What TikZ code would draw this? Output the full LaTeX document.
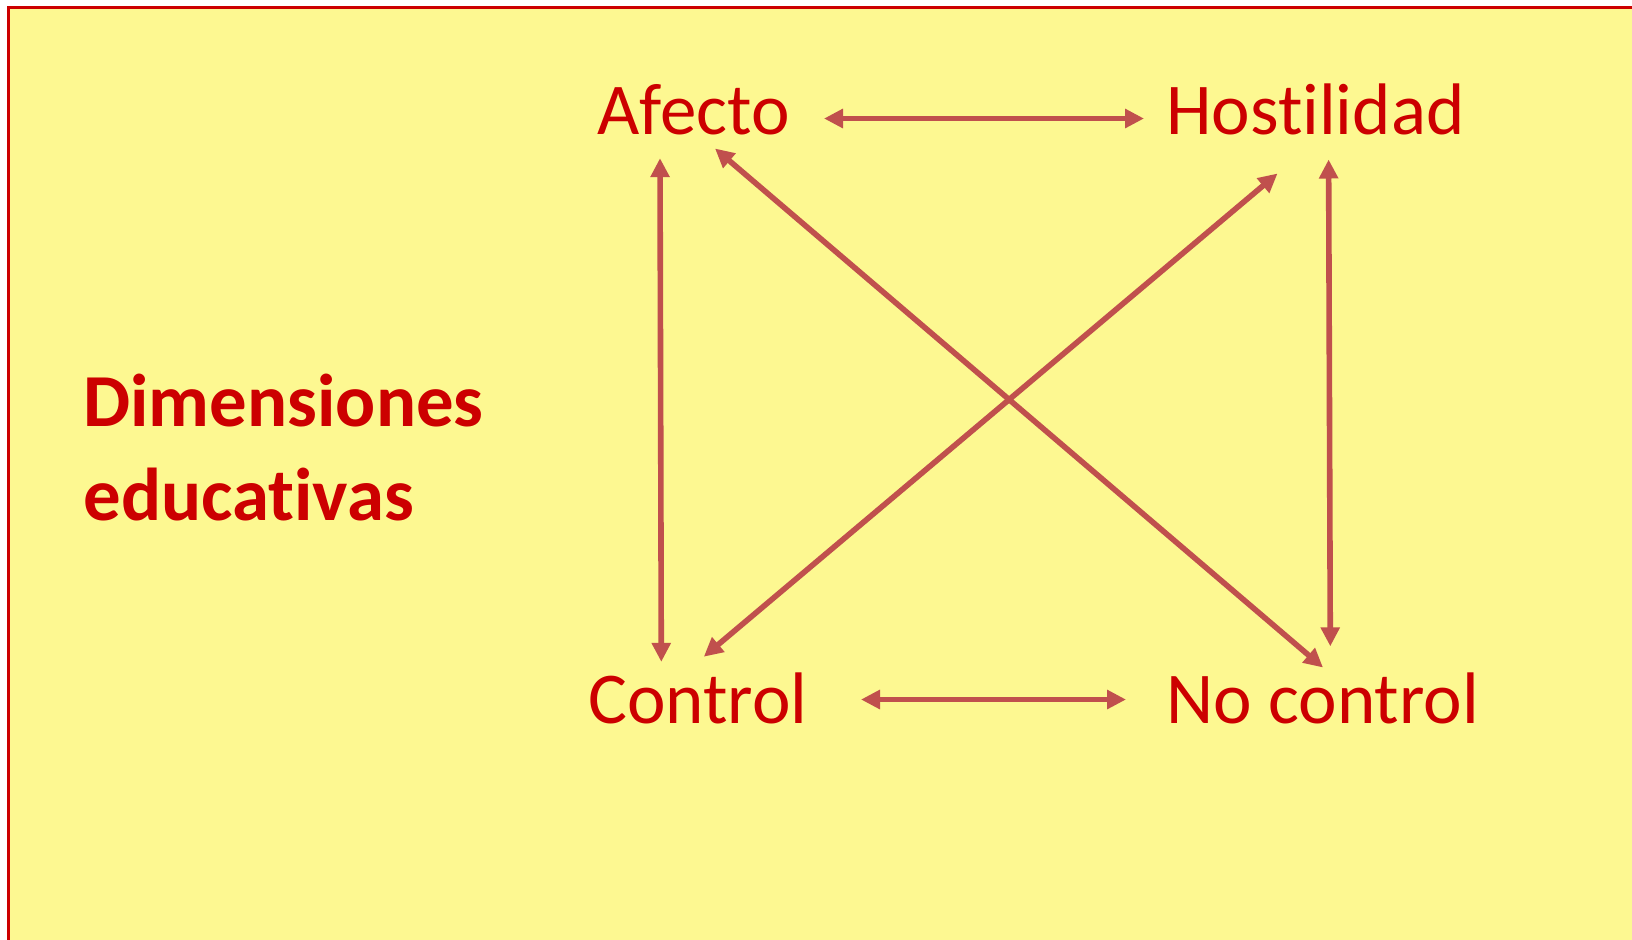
\documentclass[tikz,border=0pt]{standalone}
\usepackage{fontspec}
\setmainfont{Carlito}[Ligatures=NoCommon]
\usetikzlibrary{arrows.meta}
\definecolor{bgyellow}{RGB}{253,248,145}
\definecolor{framered}{RGB}{204,0,0}
\definecolor{txtred}{RGB}{204,0,0}
\definecolor{arrowred}{RGB}{192,80,77}
\tikzset{
  lbl/.style={anchor=base west, inner sep=0pt, text=txtred, font=\fontsize{36.5pt}{44pt}\selectfont},
  biarrow/.style={draw=arrowred, line width=2.8pt, {Triangle[length=9.5pt,width=9.2pt]}-{Triangle[length=9.5pt,width=9.2pt]}}
}
\begin{document}
\begin{tikzpicture}[x=0.5pt,y=-0.5pt]
\useasboundingbox (0,0) rectangle (1632,939);
\fill[bgyellow] (8,7.5) rectangle (1640,945);
\draw[framered, line width=1.6pt] (8.3,945) -- (8.3,7.5) -- (1640,7.5);
% labels
\node[lbl] (afecto) at (597,134) {Afecto};
\node[lbl] (host) at (1166,134) {Hostilidad};
\node[lbl] (control) at (588,723) {Control};
\node[lbl] (nocontrol) at (1166,723) {No control};
\node[lbl, font=\fontsize{37.4pt}{46.7pt}\selectfont\bfseries, align=left] (dim) at (83,520) {Dimensiones\\educativas};
% arrow ends
\coordinate (aH) at (824,118.5);
\coordinate (hA) at (1144,118.5);
\coordinate (cN) at (861,699.5);
\coordinate (nC) at (1126,699.5);
\coordinate (aC) at (660,158.2);
\coordinate (cA) at (661.3,661.8);
\coordinate (hN) at (1328.6,159.5);
\coordinate (nH) at (1330.3,646.3);
\coordinate (aN) at (715,148.5);
\coordinate (nA) at (1323,667.5);
\coordinate (hC) at (1277.5,173.5);
\coordinate (cH) at (703.8,656.7);
\draw[biarrow] (aH) -- (hA);
\draw[biarrow] (cN) -- (nC);
\draw[biarrow] (aC) -- (cA);
\draw[biarrow] (hN) -- (nH);
\draw[biarrow] (aN) -- (nA);
\draw[biarrow] (hC) -- (cH);
\end{tikzpicture}
\end{document}
